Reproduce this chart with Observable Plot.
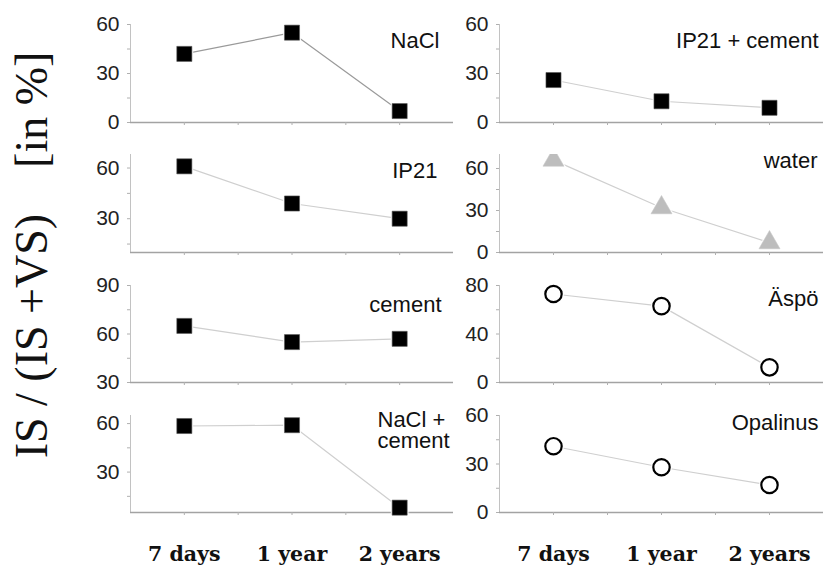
<!DOCTYPE html>
<html>
<head>
<meta charset="utf-8">
<script src="https://cdn.jsdelivr.net/npm/d3@7"></script>
<script src="https://cdn.jsdelivr.net/npm/@observablehq/plot@0.6"></script>
<style>
  body { margin: 0; background: #fff; }
  #fig { position: relative; width: 823px; height: 565px; overflow: hidden; background: #fff; }
  #fig svg { position: absolute; overflow: visible; }
</style>
</head>
<body>
<div id="fig"></div>
<script>
// Sampling times (x categories)
const periods = ["7 days", "1 year", "2 years"];

// IS / (IS + VS) in % for each solution
const nacl       = [42, 55, 7];
const ip21Cement = [26, 13, 9];
const ip21       = [61, 39, 30];
const water      = [66, 32, 7];
const cement     = [65, 55, 57];
const aspo       = [73, 63, 12.5];
const naclCement = [58.5, 59, 8];
const opalinus   = [41, 28, 17];

// Panel labels
const labels = ["NaCl", "IP21 + cement", "IP21", "water", "cement", "Äspö", "NaCl +\ncement", "Opalinus"];

const fig = document.getElementById("fig");

const LEFT_X = [130, 499];          // frame left edge per column
const FRAME_W = [323, 324];
const ROW_TOP = [24, 154, 285, 415]; // frame top per row
const FRAME_H = [98, 98, 97, 97];
const ML = 45, MT = 12;

const panels = [
  {values: nacl,       label: labels[0], col: 0, row: 0, domain: [0, 60],  major: [0, 30, 60],  minor: [15, 45], kind: "square",   line: "#9a9a9a", dx: -14, dy: 9},
  {values: ip21Cement, label: labels[1], col: 1, row: 0, domain: [0, 60],  major: [0, 30, 60],  minor: [15, 45], kind: "square",   line: "#cfcfcf", dx: -5,  dy: 9},
  {values: ip21,       label: labels[2], col: 0, row: 1, domain: [10, 68], major: [30, 60],     minor: [15, 45], kind: "square",   line: "#cfcfcf", dx: -16, dy: 9},
  {values: water,      label: labels[3], col: 1, row: 1, domain: [0, 70],  major: [0, 30, 60],  minor: [15, 45], kind: "triangle", line: "#cfcfcf", dx: -6,  dy: -1},
  {values: cement,     label: labels[4], col: 0, row: 2, domain: [30, 90], major: [30, 60, 90], minor: [45, 75], kind: "square",   line: "#cfcfcf", dx: -12, dy: 12},
  {values: aspo,       label: labels[5], col: 1, row: 2, domain: [0, 80],  major: [0, 40, 80],  minor: [20, 60], kind: "circle",   line: "#cfcfcf", dx: -5,  dy: 6},
  {values: naclCement, label: labels[6], col: 0, row: 3, domain: [5, 65],  major: [30, 60],     minor: [15, 45], kind: "square",   line: "#cfcfcf", dx: -76, dy: -3, anchor: "start"},
  {values: opalinus,   label: labels[7], col: 1, row: 3, domain: [0, 60],  major: [0, 30, 60],  minor: [15, 45], kind: "circle",   line: "#cfcfcf", dx: -5,  dy: 0}
];

function markerMarks(rows, kind) {
  const enc = {x: "x", y: "value"};
  if (kind === "square") return [
    Plot.dot(rows, {...enc, symbol: "square", r: 10, fill: "white", stroke: "none"}),
    Plot.dot(rows, {...enc, symbol: "square", r: 8.5, fill: "#000", stroke: "#555", strokeWidth: 0.6})
  ];
  if (kind === "triangle") return [
    Plot.dot(rows, {...enc, symbol: "triangle", r: 9.5, fill: "white", stroke: "none", clip: true}),
    Plot.dot(rows, {...enc, symbol: "triangle", r: 7.8, fill: "#bdbdbd", stroke: "#c8c8c8", strokeWidth: 0.6, clip: true})
  ];
  return [
    Plot.dot(rows, {...enc, symbol: "circle", r: 10.5, fill: "white", stroke: "none"}),
    Plot.dot(rows, {...enc, symbol: "circle", r: 8.2, fill: "white", stroke: "#000", strokeWidth: 2.2})
  ];
}

for (const p of panels) {
  const rows = periods.map((period, i) => ({period, x: i + 0.5, value: p.values[i]}));
  const bottom = p.row === 3;
  const MB = bottom ? 56 : 12;
  const ticksY = [...p.major, ...p.minor].sort((a, b) => a - b);

  const chart = Plot.plot({
    width: ML + FRAME_W[p.col],
    height: MT + FRAME_H[p.row] + MB,
    marginLeft: ML,
    marginRight: 0,
    marginTop: MT,
    marginBottom: MB,
    x: {domain: [0, 3]},
    y: {domain: p.domain},
    style: {background: "transparent", fontFamily: "'Liberation Sans', Arial, sans-serif", overflow: "visible"},
    marks: [
      Plot.ruleX([0], {stroke: "#c2c2c2", strokeWidth: 1}),
      Plot.ruleY([p.domain[0]], {stroke: "#a3a3a3", strokeWidth: 1.6}),
      Plot.axisY({
        ticks: ticksY, tickSize: 3, tickPadding: 8, stroke: "#b0b0b0",
        tickFormat: d => p.major.includes(d) ? String(d) : "",
        fontSize: 21, fill: "#222", label: null
      }),
      Plot.axisX({
        ticks: [0.5, 1, 1.5, 2, 2.5], tickSize: 3, tickPadding: 31, stroke: "#b0b0b0",
        tickFormat: d => bottom && Number.isInteger(d - 0.5) ? periods[d - 0.5] : "",
        fontFamily: "'DejaVu Serif', serif", fontWeight: "bold", fontSize: 20.5, fill: "#111", label: null
      }),
      Plot.line(rows, {x: "x", y: "value", stroke: p.line, strokeWidth: 1.2}),
      ...markerMarks(rows, p.kind),
      Plot.text([p.label], {
        text: d => d, frameAnchor: "top-right", dx: p.dx, dy: p.dy,
        textAnchor: p.anchor || "end", lineAnchor: "top", lineHeight: 0.95,
        fontSize: 22, fill: "#111"
      })
    ]
  });
  chart.style.left = (LEFT_X[p.col] - ML) + "px";
  chart.style.top = (ROW_TOP[p.row] - MT) + "px";
  fig.appendChild(chart);
}

// Shared rotated y title
const ns = "http://www.w3.org/2000/svg";
const tsvg = document.createElementNS(ns, "svg");
tsvg.setAttribute("width", 75);
tsvg.setAttribute("height", 565);
tsvg.style.left = "0px";
tsvg.style.top = "0px";
const t = document.createElementNS(ns, "text");
t.setAttribute("transform", "translate(47,255) rotate(-90)");
t.setAttribute("text-anchor", "middle");
t.setAttribute("font-family", "'Liberation Serif', 'Times New Roman', serif");
t.setAttribute("font-size", 46);
t.setAttribute("fill", "#111");
t.textContent = "IS / (IS +VS)\u00a0\u00a0\u00a0\u00a0[in %]";
tsvg.appendChild(t);
fig.appendChild(tsvg);
</script>
</body>
</html>
